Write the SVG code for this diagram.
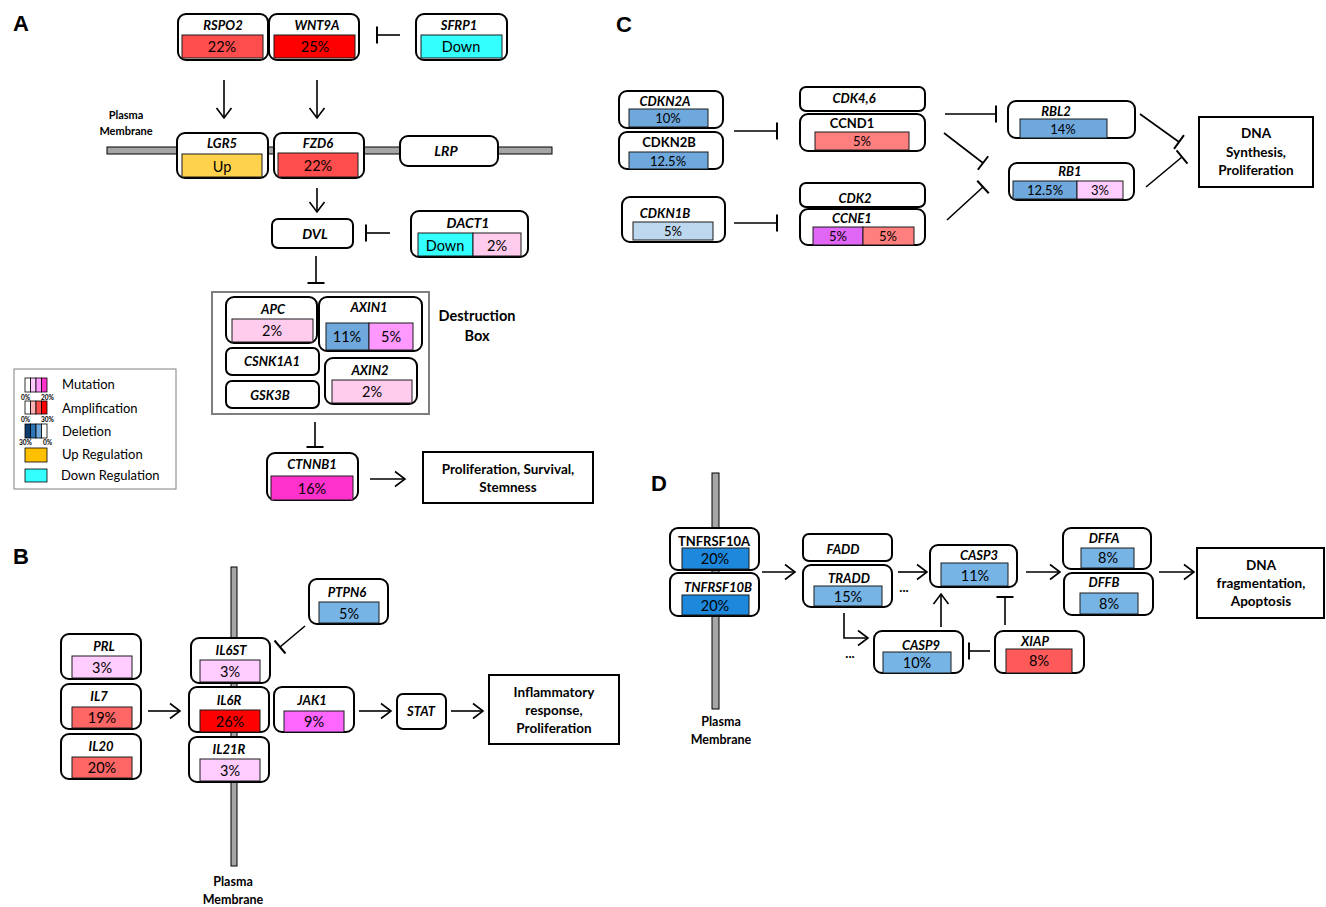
<svg xmlns="http://www.w3.org/2000/svg" width="1326" height="907" viewBox="0 0 1326 907">
<style>
.bg{fill:#fff}
.box{fill:#fff;stroke:#000;stroke-width:2}
.sq{fill:#fff;stroke:#000;stroke-width:2}
.bar{stroke:#1a1a1a;stroke-width:1}
.mem{fill:#a6a6a6;stroke:#000;stroke-width:1}
.gi{font-family:Lato,"Liberation Sans",sans-serif;font-weight:bold;font-style:italic;font-size:13px;text-anchor:middle}
.gn{font-family:Lato,"Liberation Sans",sans-serif;font-weight:bold;font-size:13px;text-anchor:middle}
.pc{font-family:Lato,"Liberation Sans",sans-serif;font-size:14.5px;text-anchor:middle}
.lb{font-family:Lato,"Liberation Sans",sans-serif;font-weight:bold;font-size:13.5px;text-anchor:middle}
.pm{font-family:Lato,"Liberation Sans",sans-serif;font-weight:bold;font-size:12.5px;text-anchor:middle}
.pl{font-family:"Liberation Sans",Arial,sans-serif;font-weight:bold;font-size:22px}
.lg{font-family:Lato,"Liberation Sans",sans-serif;font-size:13px}
.tiny{font-family:Lato,"Liberation Sans",sans-serif;font-weight:bold;font-size:6.5px}
.e{fill:none;stroke:#000;stroke-width:1.6}
.a{marker-end:url(#arr)}
.t{marker-end:url(#tee)}
.mut1{fill:#ffccee}.mut2{fill:#ffccff}.mut3{fill:#ff99ff}.mut4{fill:#ff66ff}.mut5{fill:#ff33cc}.mut6{fill:#e066f5}
.amp1{fill:#ff7f7f}.amp2{fill:#ff5a5a}.amp3{fill:#ff6666}.amp4{fill:#ff4d4d}.amp5{fill:#ff0000}
.del1{fill:#bdd7ee}.del2{fill:#6fa8dc}.del3{fill:#77b4e6}.del4{fill:#1e88dc}
.up{fill:#ffd24d}.dn{fill:#33ffff}
</style>
<defs>
<marker id="arr" markerWidth="13" markerHeight="18" refX="11" refY="9" orient="auto" markerUnits="userSpaceOnUse"><path d="M1,1.5 L11,9 L1,16.5" fill="none" stroke="#000" stroke-width="1.6"/></marker>
<marker id="tee" markerWidth="4" markerHeight="20" refX="2" refY="10" orient="auto" markerUnits="userSpaceOnUse"><path d="M2,1.5 V18.5" stroke="#000" stroke-width="2"/></marker>
</defs>
<rect class="bg" x="0" y="0" width="1326" height="907"/>

<!-- panel letters -->
<text class="pl" x="13" y="31">A</text>
<text class="pl" x="13" y="564">B</text>
<text class="pl" x="616" y="32">C</text>
<text class="pl" x="651" y="491">D</text>

<!-- membranes -->
<g id="membranes">
<rect class="mem" x="107" y="147" width="445" height="7"/>
<rect class="mem" x="231" y="567" width="6" height="299"/>
<rect class="mem" x="712" y="473" width="7" height="236"/>
<text class="pm" x="126" y="119" style="font-size:11px">Plasma</text>
<text class="pm" x="126" y="135" style="font-size:11px">Membrane</text>
<text class="pm" x="233" y="886">Plasma</text>
<text class="pm" x="233" y="904">Membrane</text>
<text class="pm" x="721" y="726">Plasma</text>
<text class="pm" x="721" y="744">Membrane</text>
</g>

<!-- connectors -->
<g id="connectors">
<line class="e a" x1="224" y1="80" x2="224" y2="118"/>
<line class="e a" x1="317" y1="80" x2="317" y2="118"/>
<line class="e t" x1="400" y1="35" x2="377" y2="35"/>
<line class="e a" x1="317" y1="188" x2="317" y2="212"/>
<line class="e t" x1="390" y1="233" x2="366" y2="233"/>
<line class="e t" x1="316" y1="256" x2="316" y2="283"/>
<line class="e t" x1="315" y1="422" x2="315" y2="447"/>
<line class="e a" x1="370" y1="479" x2="405" y2="479"/>

<line class="e t" x1="305" y1="626" x2="280" y2="647"/>
<line class="e a" x1="148" y1="711" x2="180" y2="711"/>
<line class="e a" x1="359" y1="711" x2="391" y2="711"/>
<line class="e a" x1="451" y1="711" x2="483" y2="711"/>

<line class="e t" x1="734" y1="131" x2="777" y2="131"/>
<line class="e t" x1="734" y1="223" x2="777" y2="223"/>
<line class="e t" x1="945" y1="114" x2="996" y2="114"/>
<line class="e t" x1="944" y1="133" x2="983" y2="163"/>
<line class="e t" x1="947" y1="220" x2="983" y2="187"/>
<line class="e t" x1="1140" y1="114" x2="1179" y2="142"/>
<line class="e t" x1="1146" y1="187" x2="1182" y2="157"/>

<line class="e a" x1="762" y1="572" x2="795" y2="572"/>
<line class="e a" x1="898" y1="572" x2="927" y2="572"/>
<path class="e a" d="M844,613 V638 H868"/>
<line class="e a" x1="941" y1="627" x2="941" y2="594"/>
<line class="e t" x1="1005" y1="625" x2="1005" y2="597"/>
<line class="e t" x1="990" y1="651" x2="969" y2="651"/>
<line class="e a" x1="1026" y1="572" x2="1060" y2="572"/>
<line class="e a" x1="1159" y1="572" x2="1194" y2="572"/>
<text class="gn" x="904" y="592">...</text>
<text class="gn" x="850" y="658">...</text>
</g>

<!-- Panel A nodes -->
<g id="RSPO2"><rect class="box" x="178" y="14" width="90" height="46" rx="8"/><text class="gi" x="223" y="30">RSPO2</text><rect class="bar amp4" x="182" y="35" width="81" height="23"/><text class="pc" x="222" y="52">22%</text></g>
<g id="WNT9A"><rect class="box" x="269" y="14" width="90" height="46" rx="8"/><text class="gi" x="317" y="30">WNT9A</text><rect class="bar amp5" x="274" y="35" width="81" height="23"/><text class="pc" x="315" y="52">25%</text></g>
<g id="SFRP1"><rect class="box" x="416" y="14" width="91" height="46" rx="8"/><text class="gi" x="459" y="30">SFRP1</text><rect class="bar dn" x="421" y="35" width="81" height="23"/><text class="pc" x="461" y="52">Down</text></g>
<g id="LGR5"><rect class="box" x="177" y="133" width="91" height="45" rx="8"/><text class="gi" x="222" y="148">LGR5</text><rect class="bar up" x="182" y="154" width="80" height="23"/><text class="pc" x="222" y="172">Up</text></g>
<g id="FZD6"><rect class="box" x="274" y="133" width="90" height="45" rx="8"/><text class="gi" x="318" y="148">FZD6</text><rect class="bar amp4" x="278" y="153" width="80" height="24"/><text class="pc" x="318" y="171">22%</text></g>
<g id="LRP"><rect class="box" x="400" y="136" width="98" height="30" rx="8"/><text class="gi" x="446" y="156" style="font-size:14px">LRP</text></g>
<g id="DVL"><rect class="box" x="272" y="219" width="81" height="29" rx="6"/><text class="gi" x="315" y="239" style="font-size:14px">DVL</text></g>
<g id="DACT1"><rect class="box" x="411" y="211" width="117" height="46" rx="8"/><text class="gi" x="468" y="228" style="font-size:14px">DACT1</text><rect class="bar dn" x="418" y="233" width="55" height="23"/><rect class="bar mut1" x="473" y="233" width="48" height="23"/><text class="pc" x="445" y="251">Down</text><text class="pc" x="497" y="251">2%</text></g>

<g id="DestructionBox">
<rect x="212" y="292" width="217" height="122" fill="none" stroke="#7f7f7f" stroke-width="2"/>
<text class="lb" x="477" y="321" style="font-size:14.5px">Destruction</text>
<text class="lb" x="477" y="341" style="font-size:14.5px">Box</text>
</g>
<g id="APC"><rect class="box" x="226" y="297" width="91" height="46" rx="8"/><text class="gi" x="273" y="314">APC</text><rect class="bar mut1" x="232" y="319" width="81" height="23"/><text class="pc" x="272" y="336">2%</text></g>
<g id="AXIN1"><rect class="box" x="319" y="297" width="103" height="54" rx="8"/><text class="gi" x="369" y="312">AXIN1</text><rect class="bar del2" x="326" y="323" width="43" height="27"/><rect class="bar mut3" x="369" y="323" width="44" height="27"/><text class="pc" x="347" y="342">11%</text><text class="pc" x="391" y="342">5%</text></g>
<g id="CSNK1A1"><rect class="box" x="226" y="348" width="93" height="27" rx="6"/><text class="gi" x="272" y="366">CSNK1A1</text></g>
<g id="GSK3B"><rect class="box" x="226" y="381" width="93" height="27" rx="6"/><text class="gi" x="270" y="400">GSK3B</text></g>
<g id="AXIN2"><rect class="box" x="325" y="358" width="92" height="46" rx="8"/><text class="gi" x="370" y="375">AXIN2</text><rect class="bar mut1" x="332" y="380" width="80" height="23"/><text class="pc" x="372" y="397">2%</text></g>
<g id="CTNNB1"><rect class="box" x="267" y="453" width="91" height="47" rx="8"/><text class="gi" x="312" y="469">CTNNB1</text><rect class="bar mut5" x="271" y="476" width="82" height="24"/><text class="pc" x="312" y="494">16%</text></g>
<g id="ProlifA"><rect class="sq" x="423" y="452" width="170" height="51"/><text class="lb" x="508" y="474">Proliferation, Survival,</text><text class="lb" x="508" y="492">Stemness</text></g>

<!-- Legend -->
<g id="legend">
<rect x="14" y="369" width="162" height="120" fill="#fff" stroke="#808080" stroke-width="1"/>
<rect x="25" y="378" width="5.5" height="14" fill="#fff" stroke="#000" stroke-width="0.8"/>
<rect x="30.5" y="378" width="5.5" height="14" fill="#ffccff" stroke="#000" stroke-width="0.8"/>
<rect x="36" y="378" width="5.5" height="14" fill="#ff99ff" stroke="#000" stroke-width="0.8"/>
<rect x="41.5" y="378" width="5.5" height="14" fill="#ff33cc" stroke="#000" stroke-width="0.8"/>
<text class="tiny" x="21" y="400">0%</text><text class="tiny" x="41" y="400">20%</text>
<text class="lg" x="62" y="389">Mutation</text>
<rect x="25" y="401" width="5.5" height="13" fill="#fff" stroke="#000" stroke-width="0.8"/>
<rect x="30.5" y="401" width="5.5" height="13" fill="#ffb3b3" stroke="#000" stroke-width="0.8"/>
<rect x="36" y="401" width="5.5" height="13" fill="#ff5050" stroke="#000" stroke-width="0.8"/>
<rect x="41.5" y="401" width="5.5" height="13" fill="#ff0000" stroke="#000" stroke-width="0.8"/>
<text class="tiny" x="21" y="422">0%</text><text class="tiny" x="41" y="422">30%</text>
<text class="lg" x="62" y="413">Amplification</text>
<rect x="25" y="424" width="5.5" height="14" fill="#0f3c6e" stroke="#000" stroke-width="0.8"/>
<rect x="30.5" y="424" width="5.5" height="14" fill="#2e75b6" stroke="#000" stroke-width="0.8"/>
<rect x="36" y="424" width="5.5" height="14" fill="#6fa8dc" stroke="#000" stroke-width="0.8"/>
<rect x="41.5" y="424" width="5.5" height="14" fill="#fff" stroke="#000" stroke-width="0.8"/>
<text class="tiny" x="19" y="445">30%</text><text class="tiny" x="43" y="445">0%</text>
<text class="lg" x="62" y="436">Deletion</text>
<rect x="25" y="448" width="22" height="14" fill="#ffc000" stroke="#000" stroke-width="0.8"/>
<text class="lg" x="62" y="459">Up Regulation</text>
<rect x="25" y="469" width="22" height="13" fill="#33ffff" stroke="#000" stroke-width="0.8"/>
<text class="lg" x="61" y="480">Down Regulation</text>
</g>

<!-- Panel B nodes -->
<g id="PRL"><rect class="box" x="61" y="634" width="80" height="45" rx="8"/><text class="gi" x="104" y="651">PRL</text><rect class="bar mut2" x="72" y="656" width="60" height="22"/><text class="pc" x="102" y="673">3%</text></g>
<g id="IL7"><rect class="box" x="61" y="684" width="80" height="45" rx="8"/><text class="gi" x="99" y="701">IL7</text><rect class="bar amp3" x="72" y="707" width="60" height="21"/><text class="pc" x="102" y="723">19%</text></g>
<g id="IL20"><rect class="box" x="61" y="734" width="80" height="45" rx="8"/><text class="gi" x="101" y="751">IL20</text><rect class="bar amp3" x="72" y="757" width="60" height="21"/><text class="pc" x="102" y="773">20%</text></g>
<g id="IL6ST"><rect class="box" x="191" y="638" width="79" height="45" rx="8"/><text class="gi" x="231" y="655">IL6ST</text><rect class="bar mut2" x="200" y="660" width="60" height="22"/><text class="pc" x="230" y="677">3%</text></g>
<g id="IL6R"><rect class="box" x="189" y="687" width="80" height="45" rx="8"/><text class="gi" x="229" y="705">IL6R</text><rect class="bar amp5" x="200" y="710" width="60" height="22"/><text class="pc" x="230" y="727">26%</text></g>
<g id="IL21R"><rect class="box" x="189" y="737" width="80" height="45" rx="8"/><text class="gi" x="229" y="754">IL21R</text><rect class="bar mut2" x="200" y="759" width="60" height="22"/><text class="pc" x="230" y="776">3%</text></g>
<g id="JAK1"><rect class="box" x="274" y="687" width="80" height="45" rx="8"/><text class="gi" x="312" y="705">JAK1</text><rect class="bar mut4" x="284" y="711" width="60" height="21"/><text class="pc" x="314" y="727">9%</text></g>
<g id="PTPN6"><rect class="box" x="309" y="579" width="79" height="45" rx="8"/><text class="gi" x="347" y="597">PTPN6</text><rect class="bar del3" x="319" y="602" width="60" height="21"/><text class="pc" x="349" y="619">5%</text></g>
<g id="STAT"><rect class="box" x="397" y="694" width="49" height="35" rx="6"/><text class="gi" x="421" y="716">STAT</text></g>
<g id="InflamB"><rect class="sq" x="489" y="675" width="130" height="69"/><text class="lb" x="554" y="697">Inflammatory</text><text class="lb" x="554" y="715">response,</text><text class="lb" x="554" y="733">Proliferation</text></g>

<!-- Panel C nodes -->
<g id="CDKN2A"><rect class="box" x="619" y="91" width="104" height="37" rx="8"/><text class="gi" x="665" y="106">CDKN2A</text><rect class="bar del2" x="629" y="109" width="79" height="18"/><text class="pc" x="668" y="123" style="font-size:13px">10%</text></g>
<g id="CDKN2B"><rect class="box" x="619" y="132" width="104" height="37" rx="8"/><text class="gn" x="669" y="147">CDKN2B</text><rect class="bar del2" x="629" y="152" width="79" height="17"/><text class="pc" x="668" y="166" style="font-size:13px">12.5%</text></g>
<g id="CDKN1B"><rect class="box" x="622" y="197" width="103" height="45" rx="8"/><text class="gi" x="665" y="218">CDKN1B</text><rect class="bar del1" x="633" y="222" width="80" height="18"/><text class="pc" x="673" y="236" style="font-size:13px">5%</text></g>
<g id="CDK46"><rect class="box" x="800" y="87" width="125" height="24" rx="6"/><text class="gi" x="854" y="103">CDK4,6</text></g>
<g id="CCND1"><rect class="box" x="800" y="114" width="125" height="37" rx="8"/><text class="gn" x="852" y="128">CCND1</text><rect class="bar amp1" x="815" y="132" width="94" height="18"/><text class="pc" x="862" y="146" style="font-size:13px">5%</text></g>
<g id="CDK2"><rect class="box" x="800" y="183" width="125" height="24" rx="6"/><text class="gi" x="855" y="203">CDK2</text></g>
<g id="CCNE1"><rect class="box" x="800" y="209" width="125" height="36" rx="8"/><text class="gi" x="852" y="223">CCNE1</text><rect class="bar mut6" x="813" y="227" width="50" height="18"/><rect class="bar amp1" x="863" y="227" width="51" height="18"/><text class="pc" x="838" y="241" style="font-size:13px">5%</text><text class="pc" x="888" y="241" style="font-size:13px">5%</text></g>
<g id="RBL2"><rect class="box" x="1008" y="101" width="127" height="37" rx="8"/><text class="gi" x="1056" y="116">RBL2</text><rect class="bar del2" x="1020" y="119" width="87" height="19"/><text class="pc" x="1063" y="134" style="font-size:13px">14%</text></g>
<g id="RB1"><rect class="box" x="1009" y="163" width="125" height="37" rx="8"/><text class="gi" x="1070" y="176">RB1</text><rect class="bar del2" x="1013" y="181" width="64" height="18"/><rect class="bar mut2" x="1077" y="181" width="46" height="18"/><text class="pc" x="1045" y="195" style="font-size:13px">12.5%</text><text class="pc" x="1100" y="195" style="font-size:13px">3%</text></g>
<g id="DNAC"><rect class="sq" x="1199" y="117" width="114" height="70"/><text class="lb" x="1256" y="138">DNA</text><text class="lb" x="1256" y="157">Synthesis,</text><text class="lb" x="1256" y="175">Proliferation</text></g>

<!-- Panel D nodes -->
<g id="TNFRSF10A"><rect class="box" x="670" y="528" width="89" height="42" rx="8"/><text class="gn" x="714" y="546">TNFRSF10A</text><rect class="bar del4" x="682" y="548" width="67" height="21"/><text class="pc" x="715" y="564">20%</text></g>
<g id="TNFRSF10B"><rect class="box" x="670" y="573" width="89" height="43" rx="8"/><text class="gi" x="718" y="592">TNFRSF10B</text><rect class="bar del4" x="682" y="595" width="67" height="20"/><text class="pc" x="715" y="611">20%</text></g>
<g id="FADD"><rect class="box" x="803" y="534" width="89" height="27" rx="6"/><text class="gi" x="843" y="554">FADD</text></g>
<g id="TRADD"><rect class="box" x="803" y="565" width="89" height="42" rx="8"/><text class="gi" x="849" y="583">TRADD</text><rect class="bar del3" x="814" y="586" width="68" height="20"/><text class="pc" x="848" y="602">15%</text></g>
<g id="CASP3"><rect class="box" x="930" y="545" width="87" height="42" rx="8"/><text class="gi" x="979" y="560">CASP3</text><rect class="bar del3" x="941" y="563" width="67" height="23"/><text class="pc" x="975" y="581">11%</text></g>
<g id="CASP9"><rect class="box" x="874" y="631" width="89" height="42" rx="8"/><text class="gi" x="921" y="650">CASP9</text><rect class="bar del3" x="883" y="652" width="68" height="21"/><text class="pc" x="917" y="668">10%</text></g>
<g id="XIAP"><rect class="box" x="995" y="631" width="89" height="42" rx="8"/><text class="gi" x="1035" y="646">XIAP</text><rect class="bar amp2" x="1006" y="649" width="66" height="24"/><text class="pc" x="1039" y="666">8%</text></g>
<g id="DFFA"><rect class="box" x="1063" y="528" width="88" height="41" rx="8"/><text class="gi" x="1104" y="543">DFFA</text><rect class="bar del3" x="1081" y="548" width="53" height="20"/><text class="pc" x="1108" y="563">8%</text></g>
<g id="DFFB"><rect class="box" x="1064" y="573" width="89" height="42" rx="8"/><text class="gi" x="1104" y="587">DFFB</text><rect class="bar del3" x="1080" y="593" width="58" height="21"/><text class="pc" x="1109" y="609">8%</text></g>
<g id="DNAD"><rect class="sq" x="1197" y="548" width="127" height="70"/><text class="lb" x="1261" y="570">DNA</text><text class="lb" x="1261" y="588">fragmentation,</text><text class="lb" x="1261" y="606">Apoptosis</text></g>
</svg>
